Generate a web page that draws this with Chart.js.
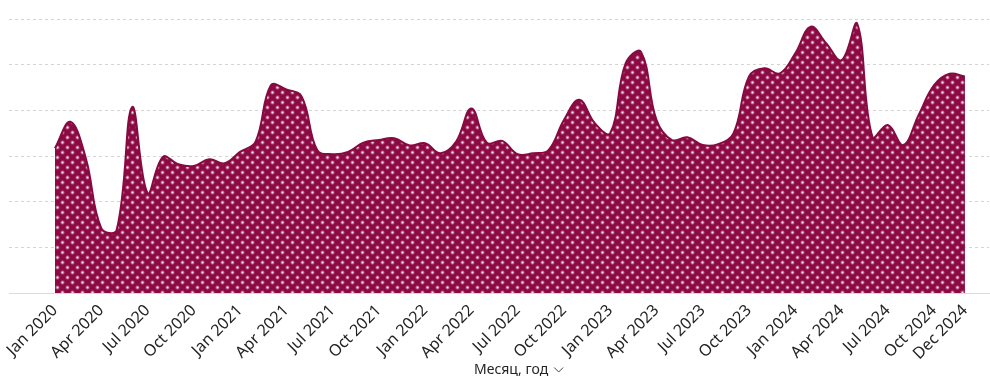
<!DOCTYPE html>
<html>
<head>
<meta charset="utf-8">
<script src="https://cdn.jsdelivr.net/npm/chart.js@4.4.0/dist/chart.umd.min.js"></script>
<style>
  html, body { margin: 0; padding: 0; background: #fff; }
</style>
</head>
<body>
<canvas id="chart" width="990" height="384"></canvas>
<script>
const months = ['Jan', 'Feb', 'Mar', 'Apr', 'May', 'Jun', 'Jul', 'Aug', 'Sep', 'Oct', 'Nov', 'Dec'];
const years = [2020, 2021, 2022, 2023, 2024];
const categories = years.flatMap(y => months.map(m => m + ' ' + y));

// monthly values
const values2020 = [3.17, 3.75, 2.95, 1.42, 1.38, 4.07, 2.19, 2.98, 2.82, 2.78, 2.93, 2.84];
const values2021 = [3.09, 3.31, 4.55, 4.46, 4.30, 3.13, 3.04, 3.09, 3.29, 3.35, 3.39, 3.23];
const values2022 = [3.28, 3.06, 3.31, 4.04, 3.29, 3.33, 3.04, 3.06, 3.13, 3.79, 4.23, 3.72];
const values2023 = [3.50, 5.03, 5.28, 3.79, 3.35, 3.41, 3.24, 3.26, 3.50, 4.74, 4.92, 4.81];
const values2024 = [5.25, 5.83, 5.47, 5.10, 5.91, 3.42, 3.68, 3.24, 3.90, 4.55, 4.80, 4.74];
const values = [...values2020, ...values2021, ...values2022, ...values2023, ...values2024];

const tickLabels = [
  'Jan 2020', 'Apr 2020', 'Jul 2020', 'Oct 2020',
  'Jan 2021', 'Apr 2021', 'Jul 2021', 'Oct 2021',
  'Jan 2022', 'Apr 2022', 'Jul 2022', 'Oct 2022',
  'Jan 2023', 'Apr 2023', 'Jul 2023', 'Oct 2023',
  'Jan 2024', 'Apr 2024', 'Jul 2024', 'Oct 2024', 'Dec 2024'
];
const axisTitle = 'Месяц, год';

// checkered dot fill
function makePattern() {
  const t = document.createElement('canvas');
  t.width = 10;
  t.height = 10;
  const g = t.getContext('2d');
  g.fillStyle = '#8c0a43';
  g.fillRect(0, 0, 10, 10);
  [[2.5, 2.5], [7.5, 7.5]].forEach(([cx, cy]) => {
    const rg = g.createRadialGradient(cx, cy, 0, cx, cy, 2.6);
    rg.addColorStop(0, 'rgba(255,240,248,1)');
    rg.addColorStop(0.4, 'rgba(232,170,198,0.8)');
    rg.addColorStop(1, 'rgba(190,100,140,0)');
    g.fillStyle = rg;
    g.fillRect(cx - 3, cy - 3, 6, 6);
  });
  return g.createPattern(t, 'repeat');
}

const titlePlugin = {
  id: 'axisTitle',
  afterDraw(chart) {
    const c = chart.ctx;
    c.save();
    c.font = '14px "Noto Sans"';
    c.fillStyle = '#252423';
    c.textBaseline = 'middle';
    c.textAlign = 'left';
    c.fillText(axisTitle, 474, 370);
    const x = 474 + c.measureText(axisTitle).width + 6;
    c.strokeStyle = '#444';
    c.lineWidth = 1;
    c.beginPath();
    c.moveTo(x, 367.5);
    c.lineTo(x + 4.5, 372);
    c.lineTo(x + 9, 367.5);
    c.stroke();
    c.restore();
  }
};

new Chart(document.getElementById('chart'), {
  type: 'line',
  data: {
    datasets: [{
      data: values.map((v, i) => ({ x: i, y: v })),
      borderColor: '#860a3f',
      borderWidth: 2,
      backgroundColor: makePattern(),
      fill: 'origin',
      tension: 0.4,
      pointRadius: 0
    }]
  },
  options: {
    responsive: false,
    animation: false,
    layout: { padding: { top: 19, right: 1, left: 0, bottom: 0 } },
    plugins: { legend: { display: false }, tooltip: { enabled: false } },
    scales: {
      x: {
        type: 'linear',
        min: -2.98,
        max: 60.56,
        afterBuildTicks: s => { s.ticks = tickLabels.map(l => ({ value: categories.indexOf(l) })); },
        afterFit: s => { s.height = 91; },
        ticks: {
          autoSkip: false,
          minRotation: 45,
          maxRotation: 45,
          padding: 0,
          color: '#252423',
          font: { family: 'Noto Sans', size: 16 },
          callback: v => categories[v]
        },
        grid: { display: false },
        border: { display: true, color: '#dadada', width: 1 }
      },
      y: {
        min: 0,
        max: 6,
        afterFit: s => { s.width = 9; },
        ticks: { display: false, stepSize: 1 },
        grid: {
          drawTicks: false,
          color: ctx => ctx.tick.value === 0 ? 'rgba(0,0,0,0)' : '#d4d4d4',
          lineWidth: 1
        },
        border: { display: false, dash: [3, 3] }
      }
    }
  },
  plugins: [titlePlugin]
});
</script>
</body>
</html>
